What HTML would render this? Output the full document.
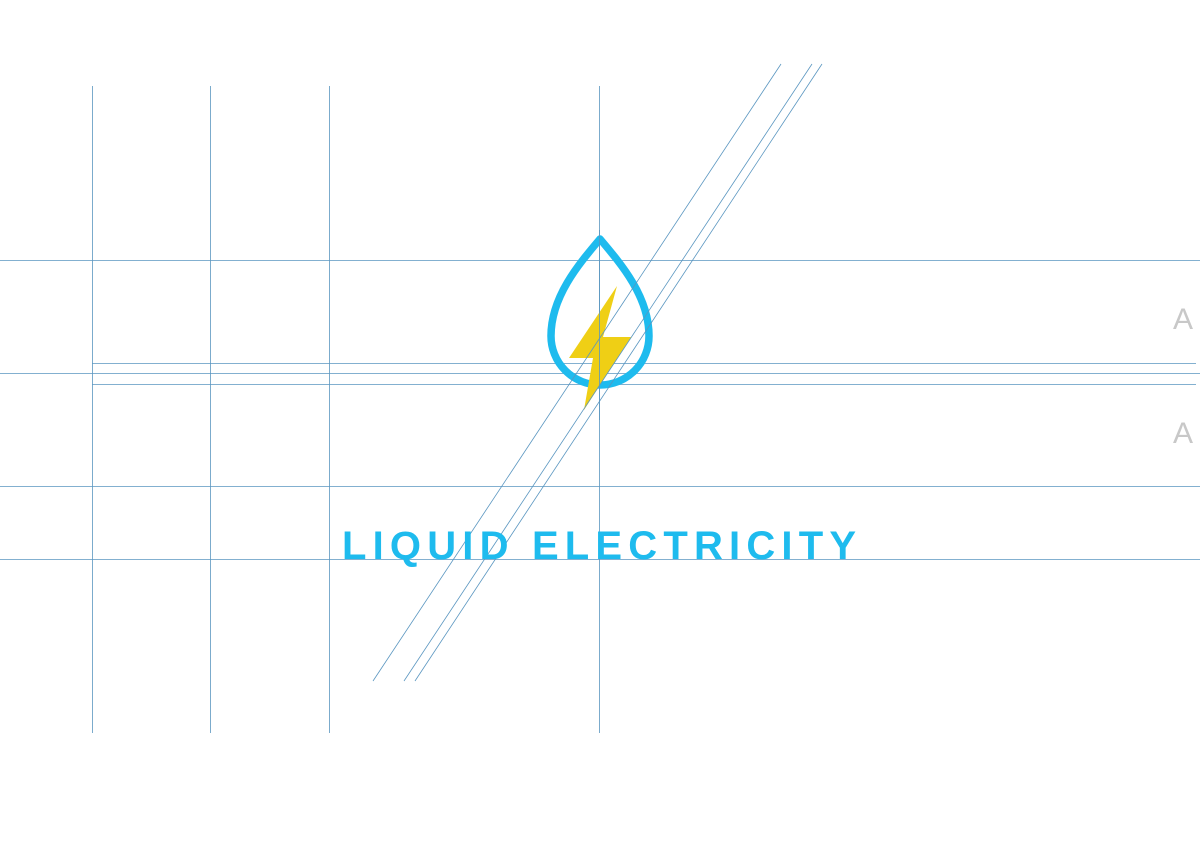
<!DOCTYPE html>
<html><head><style>body{margin:0;background:#fff}svg{display:block}</style></head><body>
<svg width="1200" height="848" xmlns="http://www.w3.org/2000/svg">
<g stroke="#5a96c0" stroke-width="0.8" fill="none">
<line x1="92.5" y1="86" x2="92.5" y2="733"/>
<line x1="210.5" y1="86" x2="210.5" y2="733"/>
<line x1="329.5" y1="86" x2="329.5" y2="733"/>
<line x1="599.5" y1="86" x2="599.5" y2="733"/>
<line x1="0" y1="260.5" x2="1200" y2="260.5"/>
<line x1="0" y1="373.5" x2="1200" y2="373.5"/>
<line x1="0" y1="486.5" x2="1200" y2="486.5"/>
<line x1="0" y1="559.5" x2="1200" y2="559.5"/>
<line x1="92" y1="363.5" x2="1196" y2="363.5"/>
<line x1="92" y1="384.5" x2="1196" y2="384.5"/>
</g>
<path d="M600,239 C578,265 551,297 551,336 A49,49 0 0 0 649,336 C649,297 622,265 600,239 Z" fill="none" stroke="#1ebbee" stroke-width="7.5" stroke-linejoin="round"/>
<polygon points="617,286 569,358 593,358 584,410 631,337 603,337" fill="#efcf15"/>
<g stroke="#5a96c0" stroke-width="0.8">
<line x1="781" y1="64" x2="373" y2="681"/>
<line x1="812" y1="64" x2="404" y2="681"/>
<line x1="822" y1="64" x2="415" y2="681"/>
<line x1="599.5" y1="230" x2="599.5" y2="420"/>
</g>
<text x="342" y="559" font-family="Liberation Sans, sans-serif" font-size="40" font-weight="bold" fill="#1ebbee" textLength="514" lengthAdjust="spacing">LIQUID ELECTRICITY</text>
<text x="1173" y="329" font-family="Liberation Sans, sans-serif" font-size="30" fill="#c8c8c8">A</text>
<text x="1173" y="443" font-family="Liberation Sans, sans-serif" font-size="30" fill="#c8c8c8">A</text>
</svg>
</body></html>
